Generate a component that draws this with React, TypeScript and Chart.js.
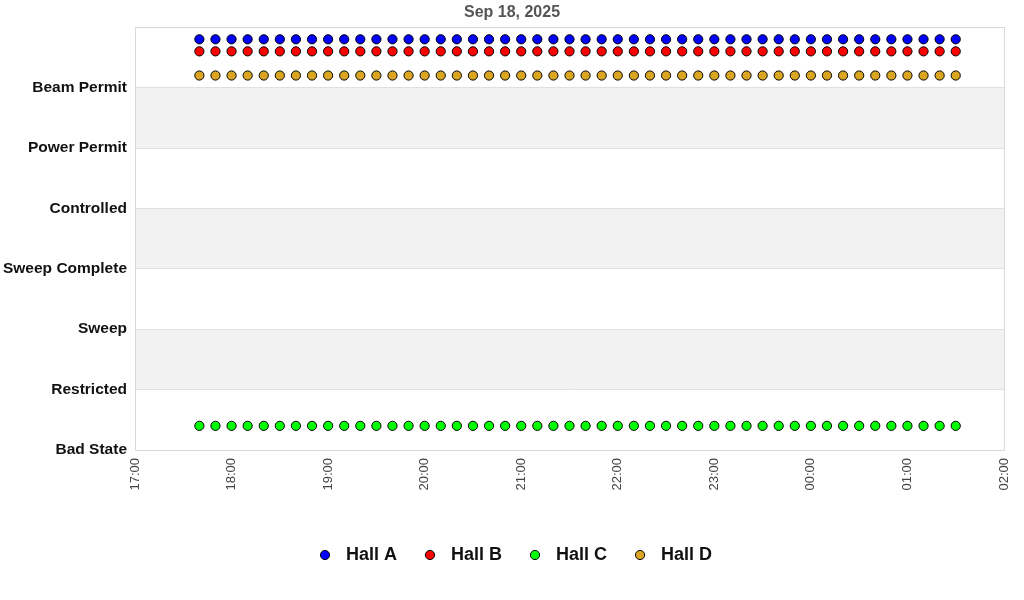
import React, { useEffect, useRef } from "react";
import { Chart, registerables } from "chart.js";

Chart.register(...registerables);

const chartTitle = "Sep 18, 2025";
const stateLabels = ["Bad State", "Restricted", "Sweep", "Sweep Complete", "Controlled", "Power Permit", "Beam Permit"];
const shadedBands = [[1, 2], [3, 4], [5, 6]];
const axisStart = "17:00";
const axisEnd = "02:00";

const times = [
  "17:40", "17:50",
  "18:00", "18:10", "18:20", "18:30", "18:40", "18:50",
  "19:00", "19:10", "19:20", "19:30", "19:40", "19:50",
  "20:00", "20:10", "20:20", "20:30", "20:40", "20:50",
  "21:00", "21:10", "21:20", "21:30", "21:40", "21:50",
  "22:00", "22:10", "22:20", "22:30", "22:40", "22:50",
  "23:00", "23:10", "23:20", "23:30", "23:40", "23:50",
  "00:00", "00:10", "00:20", "00:30", "00:40", "00:50",
  "01:00", "01:10", "01:20", "01:30",
];

const hallA = [
  6.8, 6.8, 6.8, 6.8, 6.8, 6.8, 6.8, 6.8,
  6.8, 6.8, 6.8, 6.8, 6.8, 6.8, 6.8, 6.8,
  6.8, 6.8, 6.8, 6.8, 6.8, 6.8, 6.8, 6.8,
  6.8, 6.8, 6.8, 6.8, 6.8, 6.8, 6.8, 6.8,
  6.8, 6.8, 6.8, 6.8, 6.8, 6.8, 6.8, 6.8,
  6.8, 6.8, 6.8, 6.8, 6.8, 6.8, 6.8, 6.8,
];
const hallB = [
  6.6, 6.6, 6.6, 6.6, 6.6, 6.6, 6.6, 6.6,
  6.6, 6.6, 6.6, 6.6, 6.6, 6.6, 6.6, 6.6,
  6.6, 6.6, 6.6, 6.6, 6.6, 6.6, 6.6, 6.6,
  6.6, 6.6, 6.6, 6.6, 6.6, 6.6, 6.6, 6.6,
  6.6, 6.6, 6.6, 6.6, 6.6, 6.6, 6.6, 6.6,
  6.6, 6.6, 6.6, 6.6, 6.6, 6.6, 6.6, 6.6,
];
const hallC = [
  0.4, 0.4, 0.4, 0.4, 0.4, 0.4, 0.4, 0.4,
  0.4, 0.4, 0.4, 0.4, 0.4, 0.4, 0.4, 0.4,
  0.4, 0.4, 0.4, 0.4, 0.4, 0.4, 0.4, 0.4,
  0.4, 0.4, 0.4, 0.4, 0.4, 0.4, 0.4, 0.4,
  0.4, 0.4, 0.4, 0.4, 0.4, 0.4, 0.4, 0.4,
  0.4, 0.4, 0.4, 0.4, 0.4, 0.4, 0.4, 0.4,
];
const hallD = [
  6.2, 6.2, 6.2, 6.2, 6.2, 6.2, 6.2, 6.2,
  6.2, 6.2, 6.2, 6.2, 6.2, 6.2, 6.2, 6.2,
  6.2, 6.2, 6.2, 6.2, 6.2, 6.2, 6.2, 6.2,
  6.2, 6.2, 6.2, 6.2, 6.2, 6.2, 6.2, 6.2,
  6.2, 6.2, 6.2, 6.2, 6.2, 6.2, 6.2, 6.2,
  6.2, 6.2, 6.2, 6.2, 6.2, 6.2, 6.2, 6.2,
];

const seriesNames = ["Hall A", "Hall B", "Hall C", "Hall D"];
const seriesValues = [hallA, hallB, hallC, hallD];
const seriesColors = ["#0000ff", "#ff0000", "#00ff00", "#daa520"];

const FONT = "'Liberation Sans', Arial, sans-serif";
const baseHour = parseInt(axisStart.split(":")[0], 10);

function toMinutes(t: string): number {
  const [h, m] = t.split(":").map((s) => parseInt(s, 10));
  const hh = h < baseHour ? h + 24 : h;
  return (hh - baseHour) * 60 + m;
}

function fmt(v: number): string {
  const total = baseHour * 60 + v;
  const h = Math.floor(total / 60) % 24;
  const m = Math.round(total % 60);
  return String(h).padStart(2, "0") + ":" + String(m).padStart(2, "0");
}

// legend marker: circle drawn left of the image centre so the gap to the text is wider
function legendMarker(color: string): HTMLCanvasElement {
  const c = document.createElement("canvas");
  c.width = 24;
  c.height = 12;
  const ctx = c.getContext("2d")!;
  ctx.beginPath();
  ctx.arc(9, 6, 4.6, 0, Math.PI * 2);
  ctx.fillStyle = color;
  ctx.fill();
  ctx.lineWidth = 1;
  ctx.strokeStyle = "#000000";
  ctx.stroke();
  return c;
}

const bandsPlugin = {
  id: "bands",
  afterLayout(chart: any) {
    const lg = chart.legend;
    if (lg) {
      lg.left = 7;
      lg.right = chart.width;
    }
    const tb = chart.titleBlock;
    if (tb) {
      tb.left = 0;
      tb.right = chart.width;
    }
  },
  beforeDraw(chart: any) {
    const { ctx, chartArea, scales } = chart;
    const y = scales.y;
    ctx.save();
    ctx.fillStyle = "#ffffff";
    ctx.fillRect(0, 0, chart.width, chart.height);
    ctx.fillStyle = "#f2f2f2";
    for (const [a, b] of shadedBands) {
      const y1 = y.getPixelForValue(b);
      const y0 = y.getPixelForValue(a);
      ctx.fillRect(chartArea.left, y1, chartArea.right - chartArea.left, y0 - y1);
    }
    ctx.restore();
  },
  beforeDatasetsDraw(chart: any) {
    const { ctx, chartArea } = chart;
    ctx.save();
    ctx.strokeStyle = "#d9d9d9";
    ctx.lineWidth = 1;
    ctx.strokeRect(
      Math.round(chartArea.left) + 0.5,
      Math.round(chartArea.top) + 0.5,
      Math.round(chartArea.right - chartArea.left),
      Math.round(chartArea.bottom - chartArea.top)
    );
    ctx.restore();
  },
};

export default function App() {
  const ref = useRef<HTMLCanvasElement | null>(null);

  useEffect(() => {
    document.body.style.margin = "0";
    if (!ref.current) return;
    const markers = seriesColors.map((c) => legendMarker(c));
    const datasets = seriesNames.map((name, i) => ({
      label: name,
      data: times.map((t, j) => ({ x: toMinutes(t), y: seriesValues[i][j] })),
      backgroundColor: seriesColors[i],
      borderColor: "#000000",
      borderWidth: 1,
      pointRadius: 4.6,
      pointHoverRadius: 4.6,
      pointStyle: "circle",
      showLine: false,
    }));
    const chart = new Chart(ref.current, {
      type: "scatter",
      data: { datasets },
      plugins: [bandsPlugin],
      options: {
        animation: false,
        responsive: false,
        devicePixelRatio: 1,
        layout: { padding: { left: 3, right: 20, top: 0, bottom: 26 } },
        plugins: {
          title: {
            display: true,
            text: chartTitle,
            color: "#555555",
            font: { family: FONT, size: 16, weight: "bold" },
            padding: { top: 3, bottom: 5 },
          },
          legend: {
            display: true,
            position: "bottom",
            labels: {
              usePointStyle: true,
              boxWidth: 18,
              boxHeight: 7,
              padding: 27,
              color: "#111111",
              font: { family: FONT, size: 18, weight: "bold" },
              generateLabels: (ch: any) =>
                ch.data.datasets.map((ds: any, i: number) => ({
                  text: ds.label,
                  fillStyle: seriesColors[i],
                  strokeStyle: "#000000",
                  lineWidth: 1,
                  pointStyle: markers[i],
                  hidden: false,
                  datasetIndex: i,
                  fontColor: "#111111",
                })),
            },
          },
          tooltip: { enabled: false },
        },
        scales: {
          x: {
            type: "linear",
            min: toMinutes(axisStart),
            max: toMinutes(axisEnd),
            grid: { display: false, drawTicks: false },
            border: { display: false },
            afterFit: (s: any) => {
              s.height = 69;
              s.paddingLeft = 0;
              s.paddingRight = 0;
            },
            ticks: {
              stepSize: 60,
              minRotation: 90,
              maxRotation: 90,
              padding: 8,
              color: "#444444",
              font: { family: FONT, size: 13 },
              callback: (v: any) => fmt(Number(v)),
            },
          },
          y: {
            min: 0,
            max: 7,
            grid: { color: "#e0e0e0", drawTicks: false },
            border: { display: false },
            afterFit: (s: any) => {
              s.width = 132;
            },
            ticks: {
              stepSize: 1,
              padding: 8,
              color: "#111111",
              font: { family: FONT, size: 15.5, weight: "bold" },
              callback: (v: any) => stateLabels[Number(v)] ?? "",
            },
          },
        },
      },
    });
    return () => chart.destroy();
  }, []);

  return (
    <div style={{ width: 1024, height: 600 }}>
      <canvas ref={ref} width={1024} height={600} />
    </div>
  );
}
